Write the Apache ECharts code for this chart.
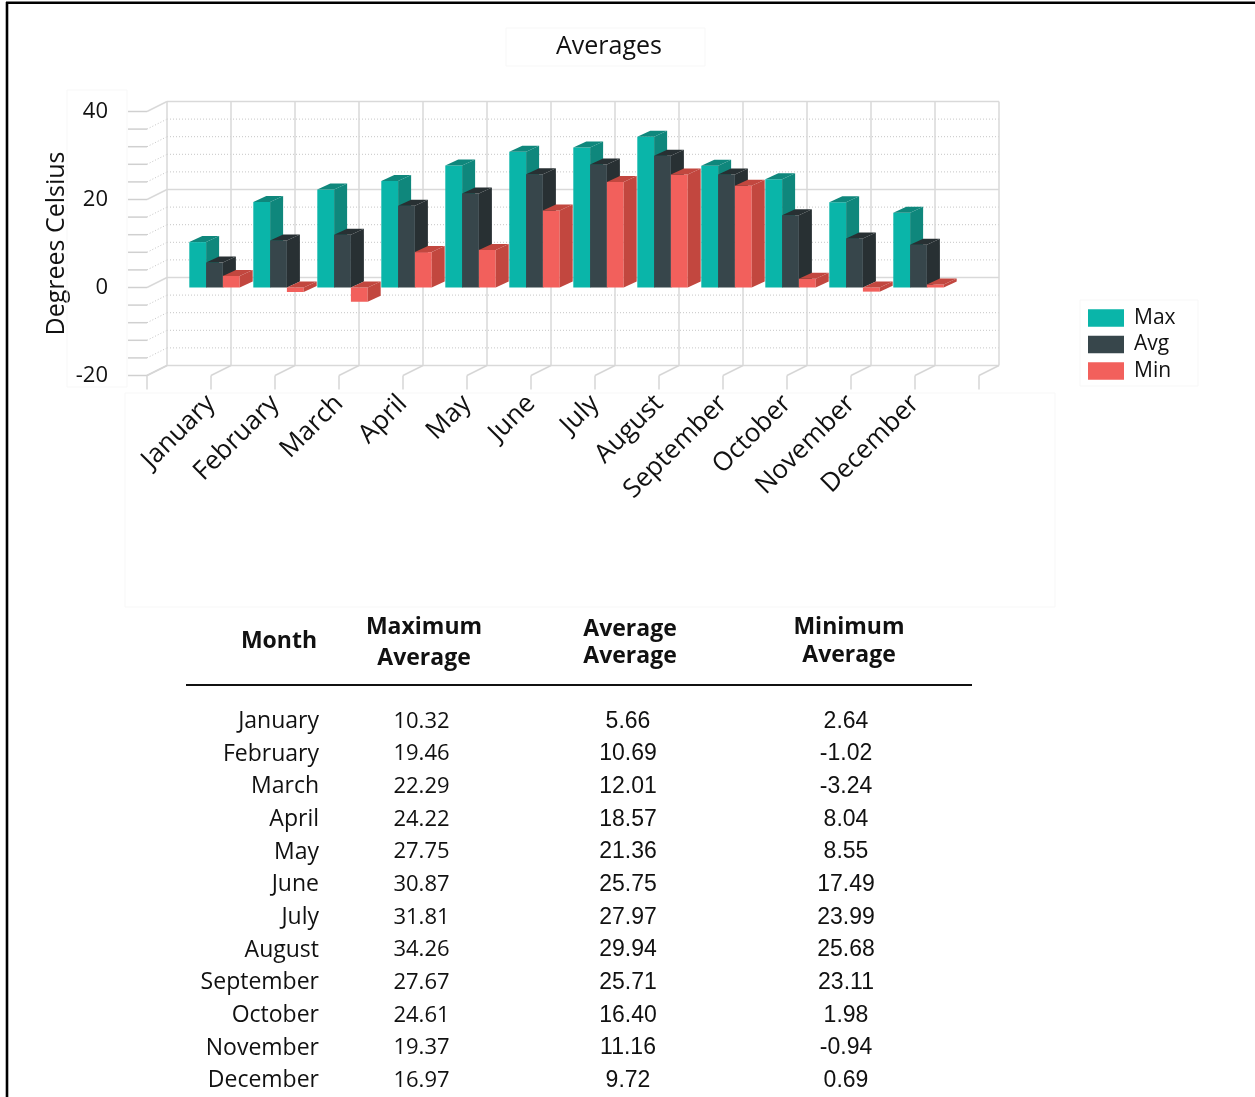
<!DOCTYPE html>
<html>
<head>
<meta charset="utf-8">
<title>Averages</title>
<script src="https://cdn.jsdelivr.net/npm/echarts@6/dist/echarts.min.js"></script>
<style>
  html, body { margin: 0; padding: 0; background: #ffffff; }
  #chart { width: 1255px; height: 1097px; }
</style>
</head>
<body>
<div id="chart"></div>
<script>
// Monthly temperature averages (degrees Celsius)
const months = ['January', 'February', 'March', 'April', 'May', 'June',
                'July', 'August', 'September', 'October', 'November', 'December'];
const maxValues = [10.32, 19.46, 22.29, 24.22, 27.75, 30.87, 31.81, 34.26, 27.67, 24.61, 19.37, 16.97];
const avgValues = [5.66, 10.69, 12.01, 18.57, 21.36, 25.75, 27.97, 29.94, 25.71, 16.40, 11.16, 9.72];
const minValues = [2.64, -1.02, -3.24, 8.04, 8.55, 17.49, 23.99, 25.68, 23.11, 1.98, -0.94, 0.69];
const seriesNames = ['Max', 'Avg', 'Min'];
const yTicks = [-20, 0, 20, 40];
const yAxisTitle = 'Degrees Celsius';
const tableHeaders = [['Month'], ['Maximum', 'Average'], ['Average', 'Average'], ['Minimum', 'Average']];

const FONT = '"Open Sans", "Noto Sans", sans-serif';
const NUM_FONT = '"Liberation Sans", Arial, sans-serif';

// depth of the plot box (front plane -> back wall) and of each bar, in pixels
const WALL_DX = 20, WALL_DY = -10;
const BAR_DX = 13, BAR_DY = -6;

const faces = [
  { front: '#0ab5a9', shade: '#0f877c' },
  { front: '#37464b', shade: '#283033' },
  { front: '#f2605c', shade: '#c2473f' }
];

const chart = echarts.init(document.getElementById('chart'), null, { renderer: 'canvas' });

// back wall, floor ticks and left-side ticks of the 3D box
function renderWall(params, api) {
  const children = [];
  const back = (x, v) => { const p = api.coord([x, v]); return [p[0] + WALL_DX, p[1] + WALL_DY]; };
  const front = (x, v) => api.coord([x, v]);
  const solid = { stroke: '#d9d9d9', lineWidth: 1.5 };
  const dotted = { stroke: '#c6c6c6', lineWidth: 1, lineDash: [1, 2] };
  const line = (a, b, style) => children.push({
    type: 'line', shape: { x1: a[0], y1: a[1], x2: b[0], y2: b[1] }, style: style
  });
  for (let v = -20; v <= 40; v += 4) {
    const major = v % 20 === 0;
    line(back(0, v), back(13, v), major ? solid : dotted);
    const f = front(0, v);
    line([f[0] - 19, f[1]], f, { stroke: '#d0d0d0', lineWidth: 1.5 });
    line(f, back(0, v), major ? solid : dotted);
  }
  for (let k = 0; k <= 13; k++) {
    line(back(k, 40), back(k, -20), solid);
    const f = front(k, -20);
    line(back(k, -20), f, { stroke: '#d6d6d6', lineWidth: 1.5 });
    line(f, [f[0], f[1] + 14], { stroke: '#d6d6d6', lineWidth: 1.5 });
  }
  return { type: 'group', children: children };
}

// one 3D bar: front face, top face and right side face
function makeBarRenderer(slot) {
  const c = faces[slot];
  return function (params, api) {
    const x = api.value(0), v = api.value(1);
    const unit = api.size([1, 0])[0];
    const base = api.coord([x, 0]);
    const tip = api.coord([x, v]);
    const barW = unit * 0.2625;
    const x0 = base[0] - unit * 0.339 + slot * barW;
    const top = Math.min(base[1], tip[1]);
    const bot = Math.max(base[1], tip[1]);
    return {
      type: 'group',
      children: [
        { type: 'rect', shape: { x: x0, y: top, width: barW, height: bot - top }, style: { fill: c.front } },
        { type: 'polygon', shape: { points: [
            [x0, top], [x0 + BAR_DX, top + BAR_DY], [x0 + barW + BAR_DX, top + BAR_DY], [x0 + barW, top]
          ] }, style: { fill: c.shade } },
        { type: 'polygon', shape: { points: [
            [x0 + barW, top], [x0 + barW + BAR_DX, top + BAR_DY], [x0 + barW + BAR_DX, bot + BAR_DY], [x0 + barW, bot]
          ] }, style: { fill: c.shade } }
      ]
    };
  };
}

const valueSets = [maxValues, avgValues, minValues];
const barSeries = valueSets.map((vals, s) => ({
  name: seriesNames[s],
  type: 'custom',
  renderItem: makeBarRenderer(s),
  clip: false,
  itemStyle: { color: faces[s].front },
  encode: { x: 0, y: 1 },
  data: vals.map((v, i) => [i + 1, v]),
  z: 3
}));

// data table under the chart
const graphics = [];
const txt = (text, x, y, align, font, weight) => graphics.push({
  type: 'text', x: x, y: y, silent: true,
  style: { text: text, align: align, verticalAlign: 'middle', fill: '#111111',
           font: (weight || 'normal') + ' ' + font }
});
const headerX = [279, 424, 630, 849];
const headerY = [[641], [627, 658], [629, 656], [627, 655]];
tableHeaders.forEach((lines, c) => lines.forEach((t, j) => txt(t, headerX[c], headerY[c][j], 'center', '23px ' + FONT, 'bold')));
graphics.push({ type: 'line', silent: true, shape: { x1: 186, y1: 685, x2: 972, y2: 685 },
                style: { stroke: '#111111', lineWidth: 2 } });
months.forEach((m, i) => {
  const y = 721.5 + i * 32.65;
  txt(m, 319, y, 'right', '23px ' + FONT);
  txt(maxValues[i].toFixed(2), 421.5, y, 'center', '22px ' + FONT);
  txt(avgValues[i].toFixed(2), 628, y, 'center', '23px ' + NUM_FONT);
  txt(minValues[i].toFixed(2), 846, y, 'center', '23px ' + NUM_FONT);
});

// vertical axis title
graphics.push({
  type: 'text', x: 57, y: 243.5, rotation: Math.PI / 2, silent: true,
  style: { text: yAxisTitle, align: 'center', verticalAlign: 'middle', fill: '#111111', font: '25px ' + FONT }
});

// faint layout boxes and page frame
const faint = { fill: 'none', stroke: '#f7f7f7', lineWidth: 1 };
graphics.push({ type: 'rect', silent: true, shape: { x: 125, y: 393, width: 930, height: 214 }, style: faint });
graphics.push({ type: 'rect', silent: true, shape: { x: 67, y: 90, width: 60, height: 297 }, style: faint });
graphics.push({ type: 'rect', silent: true, shape: { x: 1080, y: 300, width: 118, height: 86 }, style: faint });
graphics.push({ type: 'rect', silent: true, shape: { x: 506, y: 28, width: 199, height: 38 }, style: faint });
graphics.push({ type: 'line', silent: true, shape: { x1: 6, y1: 2.8, x2: 1255, y2: 2.8 }, style: { stroke: '#000', lineWidth: 2.6 } });
graphics.push({ type: 'line', silent: true, shape: { x1: 7, y1: 2, x2: 7, y2: 1097 }, style: { stroke: '#000', lineWidth: 2.6 } });

const option = {
  backgroundColor: '#ffffff',
  animation: false,
  title: {
    text: 'Averages',
    left: 604,
    top: 29,
    textAlign: 'center',
    textStyle: { fontFamily: FONT, fontSize: 25, fontWeight: 'normal', color: '#111111' }
  },
  legend: {
    data: seriesNames,
    orient: 'vertical',
    left: 1088,
    top: 307,
    padding: 0,
    icon: 'rect',
    itemWidth: 36,
    itemHeight: 17.5,
    itemGap: 4.5,
    selectedMode: false,
    textStyle: { fontFamily: FONT, fontSize: 21, color: '#111111', lineHeight: 22, padding: [0, 0, 0, 5] }
  },
  grid: { left: 147, top: 111.5, width: 832, height: 264, containLabel: false },
  xAxis: {
    type: 'value',
    min: 0,
    max: 13,
    interval: 1,
    axisLine: { show: false },
    axisTick: { show: false },
    splitLine: { show: false },
    axisLabel: {
      rotate: 45,
      margin: 24,
      fontFamily: FONT,
      fontSize: 26,
      color: '#111111',
      formatter: v => months[v - 1] || ''
    }
  },
  yAxis: {
    type: 'value',
    min: -20,
    max: 40,
    interval: 20,
    axisLine: { show: false },
    axisTick: { show: false },
    splitLine: { show: false },
    axisLabel: {
      margin: 39,
      fontFamily: FONT,
      fontSize: 22,
      color: '#111111',
      formatter: v => (yTicks.indexOf(v) >= 0 ? String(v) : '')
    }
  },
  graphic: graphics,
  series: [{
    type: 'custom',
    name: 'wall',
    silent: true,
    clip: false,
    renderItem: renderWall,
    encode: { x: 0, y: 1 },
    data: [[0, 0]],
    z: 1
  }].concat(barSeries)
};

chart.setOption(option);
</script>
</body>
</html>
